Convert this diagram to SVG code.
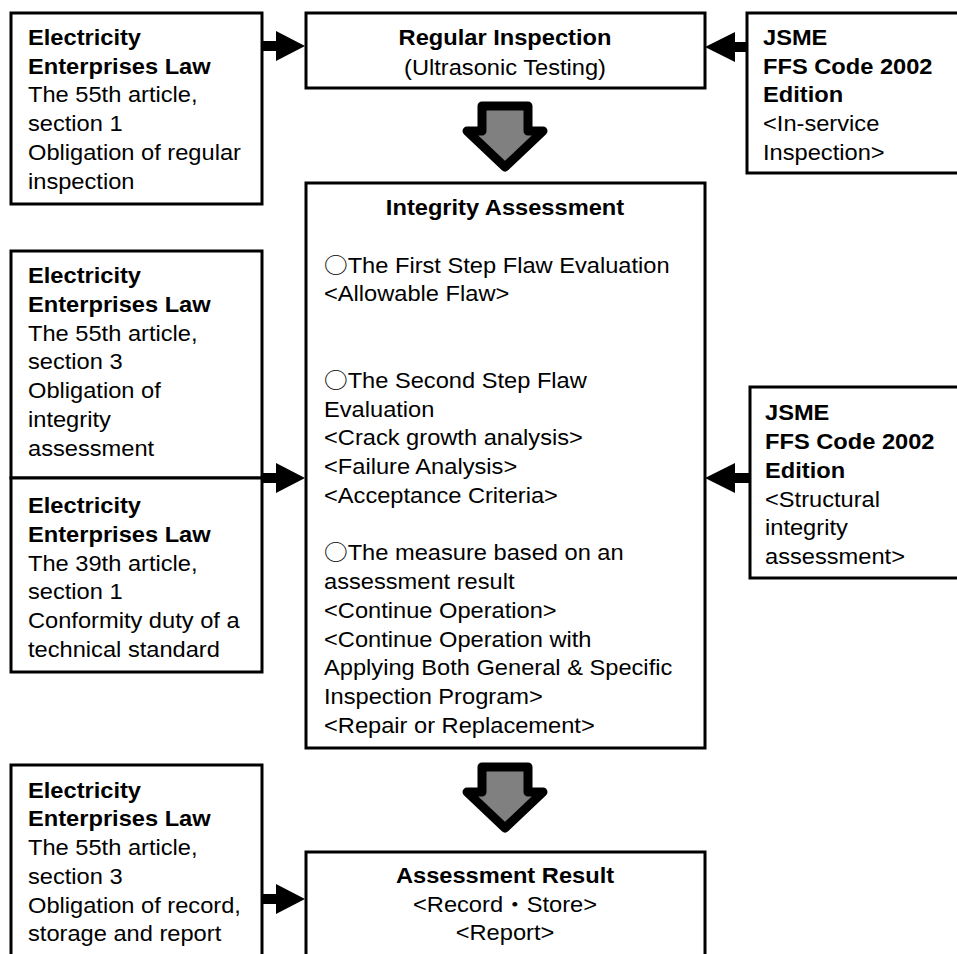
<svg xmlns="http://www.w3.org/2000/svg" width="957" height="954" viewBox="0 0 957 954">
<style>
.box{fill:#fff;stroke:#000;stroke-width:3}
text{font-family:"Liberation Sans",Arial,"Noto Sans CJK JP",sans-serif;font-size:21.5px;fill:#000}
.b{font-weight:bold}
.c{text-anchor:middle}
.cj{font-family:"Noto Sans CJK JP","Noto Sans CJK SC",sans-serif}
.big{fill:#808080;stroke:#000;stroke-width:9;stroke-linejoin:round}
.sa{fill:#000;stroke:none}
</style>
<rect width="957" height="954" fill="#fff"/>

<g id="law-55-1">
<rect class="box" x="11" y="13" width="251" height="191"/>
<g transform="translate(28,0) scale(1.1,1)">
<text class="b" x="0" y="45">Electricity</text>
<text class="b" x="0" y="73.75">Enterprises Law</text>
<text x="0" y="102.5">The 55th article,</text>
<text x="0" y="131.25">section 1</text>
<text x="0" y="160">Obligation of regular</text>
<text x="0" y="188.75">inspection</text>
</g>
</g>

<g id="regular-inspection">
<rect class="box" x="306" y="13" width="399" height="75"/>
<g transform="translate(505,0) scale(1.1,1)">
<text class="b c" x="0" y="45">Regular Inspection</text>
<text class="c" x="0" y="75.5">(Ultrasonic Testing)</text>
</g>
</g>

<g id="jsme-isi">
<rect class="box" x="747" y="13" width="220" height="160"/>
<g transform="translate(763,0) scale(1.1,1)">
<text class="b" x="0" y="45">JSME</text>
<text class="b" x="0" y="73.75">FFS Code 2002</text>
<text class="b" x="0" y="102.5">Edition</text>
<text x="0" y="131.25">&lt;In-service</text>
<text x="0" y="160">Inspection&gt;</text>
</g>
</g>

<g id="integrity-assessment">
<rect class="box" x="306" y="183" width="399" height="565"/>
<g transform="translate(505,0) scale(1.1,1)">
<text class="b c" x="0" y="215">Integrity Assessment</text>
</g>
<g transform="translate(324,0) scale(1.1,1)">
<text x="0" y="273"><tspan class="cj">○</tspan>The First Step Flaw Evaluation</text>
<text x="0" y="301.5">&lt;Allowable Flaw&gt;</text>
<text x="0" y="388"><tspan class="cj">○</tspan>The Second Step Flaw</text>
<text x="0" y="416.8">Evaluation</text>
<text x="0" y="445.5">&lt;Crack growth analysis&gt;</text>
<text x="0" y="474.3">&lt;Failure Analysis&gt;</text>
<text x="0" y="503">&lt;Acceptance Criteria&gt;</text>
<text x="0" y="560.5"><tspan class="cj">○</tspan>The measure based on an</text>
<text x="0" y="589.3">assessment result</text>
<text x="0" y="618">&lt;Continue Operation&gt;</text>
<text x="0" y="646.8">&lt;Continue Operation with</text>
<text x="0" y="675.5">Applying Both General &amp; Specific</text>
<text x="0" y="704.3">Inspection Program&gt;</text>
<text x="0" y="733">&lt;Repair or Replacement&gt;</text>
</g>
</g>

<g id="law-55-3-integrity">
<rect class="box" x="11" y="251" width="251" height="227"/>
<g transform="translate(28,0) scale(1.1,1)">
<text class="b" x="0" y="283.3">Electricity</text>
<text class="b" x="0" y="312">Enterprises Law</text>
<text x="0" y="340.8">The 55th article,</text>
<text x="0" y="369.5">section 3</text>
<text x="0" y="398.3">Obligation of</text>
<text x="0" y="427">integrity</text>
<text x="0" y="455.8">assessment</text>
</g>
</g>

<g id="law-39-1">
<rect class="box" x="11" y="478" width="251" height="194"/>
<g transform="translate(28,0) scale(1.1,1)">
<text class="b" x="0" y="513.3">Electricity</text>
<text class="b" x="0" y="542">Enterprises Law</text>
<text x="0" y="570.8">The 39th article,</text>
<text x="0" y="599.5">section 1</text>
<text x="0" y="628.3">Conformity duty of a</text>
<text x="0" y="657">technical standard</text>
</g>
</g>

<g id="jsme-sia">
<rect class="box" x="750" y="387" width="220" height="191"/>
<g transform="translate(765,0) scale(1.1,1)">
<text class="b" x="0" y="420.5">JSME</text>
<text class="b" x="0" y="449.3">FFS Code 2002</text>
<text class="b" x="0" y="478">Edition</text>
<text x="0" y="506.8">&lt;Structural</text>
<text x="0" y="535.5">integrity</text>
<text x="0" y="564.3">assessment&gt;</text>
</g>
</g>

<g id="law-55-3-record">
<rect class="box" x="11" y="765" width="251" height="200"/>
<g transform="translate(28,0) scale(1.1,1)">
<text class="b" x="0" y="797.7">Electricity</text>
<text class="b" x="0" y="826.4">Enterprises Law</text>
<text x="0" y="855.2">The 55th article,</text>
<text x="0" y="883.9">section 3</text>
<text x="0" y="912.7">Obligation of record,</text>
<text x="0" y="941.4">storage and report</text>
</g>
</g>

<g id="assessment-result">
<rect class="box" x="306" y="852" width="399" height="120"/>
<g transform="translate(505,0) scale(1.1,1)">
<text class="b c" x="0" y="883.5">Assessment Result</text>
<text class="c" x="0" y="912">&lt;Record<tspan class="cj">・</tspan>Store&gt;</text>
<text class="c" x="0" y="940.5">&lt;Report&gt;</text>
</g>
</g>

<g id="connectors">
<path class="big" d="M482,106 H528 V131 H543 L505,167 L467,131 H482 Z"/>
<path class="big" d="M482,767 H528 V792 H543 L505,828 L467,792 H482 Z"/>
<path class="sa" d="M262,41 H276 V31 L305,46 L276,61 V51 H262 Z"/>
<path class="sa" d="M747,42 H735 V32 L705,47 L735,62 V52 H747 Z"/>
<path class="sa" d="M262,473 H276 V463 L305,478 L276,493 V483 H262 Z"/>
<path class="sa" d="M750,473 H735 V463 L705,478 L735,493 V483 H750 Z"/>
<path class="sa" d="M262,894 H276 V884 L305,899 L276,914 V904 H262 Z"/>
</g>
</svg>
